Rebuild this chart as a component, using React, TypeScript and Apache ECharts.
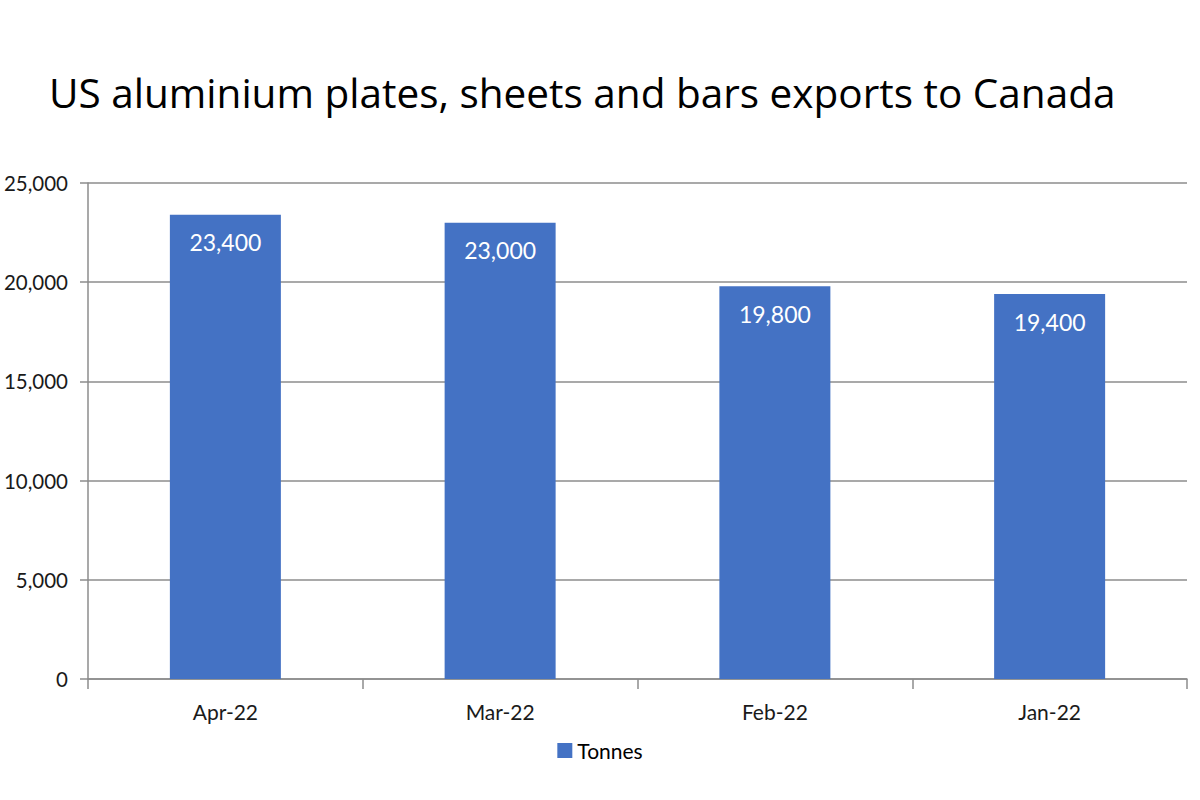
import { useEffect, useRef } from 'react';
import * as echarts from 'echarts';

// ─── Data ─────────────────────────────────────────────────────────────────────

const months = ['Apr-22', 'Mar-22', 'Feb-22', 'Jan-22'];
const tonnes = [23400, 23000, 19800, 19400];

const TITLE = 'US aluminium plates, sheets and bars exports to Canada';
const FONT = 'Lato, "Noto Sans", sans-serif';
const TITLE_FONT = '"Open Sans", "Noto Sans", sans-serif';

function fmt(v: number): string {
  return v.toLocaleString('en-US');
}

function buildOption(): echarts.EChartsOption {
  return {
    animation: false,
    backgroundColor: '#ffffff',
    textStyle: { fontFamily: FONT },
    title: {
      text: TITLE,
      left: 44,
      top: 67,
      textStyle: { fontFamily: TITLE_FONT, fontSize: 40.5, fontWeight: 'normal', color: '#000000' },
    },
    legend: {
      bottom: 34,
      left: 'center',
      itemWidth: 15,
      itemHeight: 15,
      icon: 'rect',
      itemGap: 6,
      textStyle: { fontFamily: FONT, fontSize: 21, color: '#000000' },
      data: ['Tonnes'],
    },
    // keep the grid where the source has it; the y labels sit tight to the left edge
    grid: {
      top: 183,
      bottom: 121,
      left: 88,
      right: 13,
      containLabel: false,
      outerBoundsMode: 'none',
    } as any,
    xAxis: {
      type: 'category',
      data: months,
      axisLine: { lineStyle: { color: '#8c8c8c', width: 1.5 } },
      axisTick: { show: true, length: 10, lineStyle: { color: '#8c8c8c', width: 1.5 } },
      axisLabel: { fontFamily: FONT, fontSize: 21, color: '#1a1a1a', margin: 22 },
    },
    yAxis: {
      type: 'value',
      min: 0,
      max: 25000,
      interval: 5000,
      axisLine: { show: true, lineStyle: { color: '#8c8c8c', width: 1.5 } },
      axisTick: { show: true, length: 8, lineStyle: { color: '#8c8c8c', width: 1.5 } },
      axisLabel: {
        fontFamily: FONT,
        fontSize: 20.5,
        color: '#1a1a1a',
        margin: 20,
        formatter: (v: number) => fmt(v),
      },
      splitLine: { lineStyle: { color: '#8c8c8c', width: 1.5 } },
    },
    series: [
      {
        name: 'Tonnes',
        type: 'bar',
        data: tonnes,
        barWidth: 111,
        itemStyle: { color: '#4472c4' },
        label: {
          show: true,
          position: 'insideTop',
          distance: 16,
          fontFamily: FONT,
          fontSize: 23,
          color: '#ffffff',
          formatter: (p: any) => fmt(p.value as number),
        },
      },
    ],
  };
}

export default function App() {
  const ref = useRef<HTMLDivElement>(null);

  useEffect(() => {
    document.body.style.margin = '0';
    if (!ref.current) return;
    const chart = echarts.init(ref.current, null, { renderer: 'svg' });
    chart.setOption(buildOption());
    return () => chart.dispose();
  }, []);

  return (
    <div
      ref={ref}
      style={{ position: 'fixed', left: 0, top: 0, width: 1200, height: 800 }}
    />
  );
}
